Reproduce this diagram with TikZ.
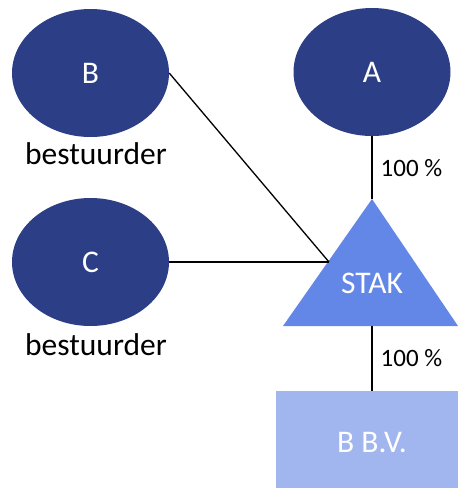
\documentclass[tikz,border=0pt]{standalone}
\usepackage{fontspec}
\setmainfont{Carlito}
\usetikzlibrary{positioning,shapes.geometric}
\definecolor{donker}{HTML}{2C3E86}
\definecolor{stakblauw}{HTML}{6287E6}
\definecolor{bvblauw}{HTML}{A1B6EF}
\begin{document}
\begin{tikzpicture}[x=1pt,y=-1pt]
  \tikzset{ pers/.style={ellipse,fill=donker,text=white,inner sep=0pt,minimum width=157pt,minimum height=128pt,font=\fontsize{31.5}{36}\selectfont},
    lbl/.style={anchor=base,inner sep=0pt,font=\fontsize{31.5}{36}\selectfont},
    pct/.style={right,inner sep=8pt,font=\fontsize{25}{29}\selectfont},
    lijn/.style={line width=1.3pt},
  }
  \clip (0,0) rectangle (458,488);
  \node[pers] (B) at (90.5, 73) {B};
  \node[pers] (A) at (372, 72) {A};
  \node[pers] (C) at (90.5, 262) {C};
  \node[lbl] (bB) at (96, 164) {bestuurder};
  \node[lbl] (bC) at (96, 355) {bestuurder};

  % triangle and the box below it
  \fill[stakblauw] (372,199) -- (458,326) -- (283,326) -- cycle;
  \coordinate (top) at (372,199);
  \coordinate (left) at (329,262);
  \coordinate (base) at (372,326);
  \node[text=white,font=\fontsize{31.5}{36}\selectfont] (S) at (372, 283) {STAK};
  \node[fill=bvblauw,text=white,minimum width=192pt,minimum height=104pt,font=\fontsize{31.5}{36}\selectfont] (BV) at (372, 443) {B B.V.};

  % the connections
  \draw[lijn] (A.south) -- (top) node [pct,midway] {100 \%};
  \draw[lijn] (base) -- (BV.north) node [pct,midway] {100 \%};
  \draw[lijn] (B.east) -- (left);
  \draw[lijn] (C.east) -- (left);
\end{tikzpicture}
\end{document}
